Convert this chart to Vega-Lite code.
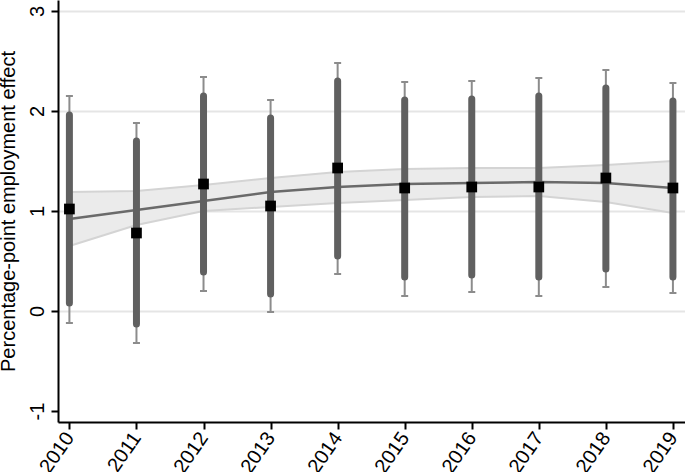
{
  "$schema": "https://vega.github.io/schema/vega-lite/v6.json",
  "width": 627,
  "height": 422,
  "autosize": {"type": "none"},
  "padding": {"left": 58, "top": 0, "right": 0, "bottom": 50},
  "background": "white",
  "config": {
    "view": {"stroke": null},
    "font": "Liberation Sans"
  },
  "data": {
    "values": [
      {"year": 2010, "est": 1.02, "hi90": 1.96, "lo90": 0.08, "hi95": 2.15, "lo95": -0.12, "fit": 0.92, "fithi": 1.19, "fitlo": 0.65},
      {"year": 2011, "est": 0.78, "hi90": 1.70, "lo90": -0.13, "hi95": 1.88, "lo95": -0.32, "fit": 1.01, "fithi": 1.20, "fitlo": 0.86},
      {"year": 2012, "est": 1.27, "hi90": 2.15, "lo90": 0.39, "hi95": 2.34, "lo95": 0.20, "fit": 1.10, "fithi": 1.26, "fitlo": 1.00},
      {"year": 2013, "est": 1.05, "hi90": 1.93, "lo90": 0.17, "hi95": 2.11, "lo95": -0.01, "fit": 1.19, "fithi": 1.33, "fitlo": 1.04},
      {"year": 2014, "est": 1.43, "hi90": 2.30, "lo90": 0.55, "hi95": 2.48, "lo95": 0.37, "fit": 1.24, "fithi": 1.39, "fitlo": 1.08},
      {"year": 2015, "est": 1.23, "hi90": 2.11, "lo90": 0.34, "hi95": 2.29, "lo95": 0.15, "fit": 1.27, "fithi": 1.42, "fitlo": 1.11},
      {"year": 2016, "est": 1.24, "hi90": 2.12, "lo90": 0.36, "hi95": 2.30, "lo95": 0.19, "fit": 1.28, "fithi": 1.43, "fitlo": 1.14},
      {"year": 2017, "est": 1.24, "hi90": 2.15, "lo90": 0.34, "hi95": 2.33, "lo95": 0.15, "fit": 1.29, "fithi": 1.43, "fitlo": 1.15},
      {"year": 2018, "est": 1.33, "hi90": 2.23, "lo90": 0.42, "hi95": 2.41, "lo95": 0.24, "fit": 1.28, "fithi": 1.46, "fitlo": 1.09},
      {"year": 2019, "est": 1.23, "hi90": 2.10, "lo90": 0.34, "hi95": 2.28, "lo95": 0.18, "fit": 1.23, "fithi": 1.50, "fitlo": 0.98}
    ]
  },
  "encoding": {
    "x": {
      "field": "year",
      "type": "quantitative",
      "scale": {"domain": [2009.83, 2019.18], "nice": false, "zero": false},
      "axis": {
        "values": [2010, 2011, 2012, 2013, 2014, 2015, 2016, 2017, 2018, 2019],
        "format": "d",
        "title": null,
        "grid": false,
        "domainColor": "black",
        "domainWidth": 2,
        "tickColor": "black",
        "tickWidth": 2,
        "tickSize": 7,
        "labelAngle": -55,
        "labelAlign": "right",
        "labelBaseline": "middle",
        "labelFontSize": 20,
        "labelColor": "black",
        "labelPadding": 5,
        "labelFlush": false,
        "labelOverlap": false
      }
    }
  },
  "layer": [
    {
      "mark": {"type": "area", "color": "#ebebeb", "opacity": 1},
      "encoding": {
        "y": {
          "field": "fitlo",
          "type": "quantitative",
          "scale": {"domain": [-1.11, 3.11], "nice": false, "zero": false},
          "axis": {
            "values": [-1, 0, 1, 2, 3],
            "labelExpr": "datum.value < 0 ? '-' + abs(datum.value) : '' + datum.value",
            "title": "Percentage-point employment effect",
            "titleFontSize": 20,
            "titleFontWeight": "normal",
            "titleColor": "black",
            "titleAngle": -90,
            "titleAlign": "center",
            "titleBaseline": "alphabetic",
            "titleX": -44,
            "titleY": 211,
            "grid": true,
            "gridColor": {"condition": {"test": "datum.value === -1", "value": "transparent"}, "value": "#e5e5e5"},
            "gridWidth": 2,
            "domainColor": "black",
            "domainWidth": 2,
            "tickColor": "black",
            "tickWidth": 2,
            "tickSize": 7,
            "labelAngle": -90,
            "labelAlign": "center",
            "labelBaseline": "alphabetic",
            "labelFontSize": 20,
            "labelColor": "black",
            "labelPadding": 8,
            "labelFlush": false
          }
        },
        "y2": {"field": "fithi"}
      }
    },
    {
      "mark": {"type": "line", "color": "#d4d4d4", "strokeWidth": 2},
      "encoding": {"y": {"field": "fithi", "type": "quantitative"}}
    },
    {
      "mark": {"type": "line", "color": "#d4d4d4", "strokeWidth": 2},
      "encoding": {"y": {"field": "fitlo", "type": "quantitative"}}
    },
    {
      "mark": {"type": "line", "color": "#6a6a6a", "strokeWidth": 2.5},
      "encoding": {"y": {"field": "fit", "type": "quantitative"}}
    },
    {
      "mark": {"type": "rule", "color": "#8c8c8c", "strokeWidth": 2},
      "encoding": {
        "y": {"field": "lo95", "type": "quantitative"},
        "y2": {"field": "hi95"}
      }
    },
    {
      "mark": {"type": "tick", "color": "#8c8c8c", "orient": "horizontal", "size": 7, "thickness": 2, "opacity": 1},
      "encoding": {"y": {"field": "hi95", "type": "quantitative"}}
    },
    {
      "mark": {"type": "tick", "color": "#8c8c8c", "orient": "horizontal", "size": 7, "thickness": 2, "opacity": 1},
      "encoding": {"y": {"field": "lo95", "type": "quantitative"}}
    },
    {
      "mark": {"type": "rule", "color": "#606060", "strokeWidth": 7, "strokeCap": "round"},
      "encoding": {
        "y": {"field": "lo90", "type": "quantitative"},
        "y2": {"field": "hi90"}
      }
    },
    {
      "mark": {"type": "point", "shape": "square", "filled": true, "color": "black", "size": 115, "opacity": 1},
      "encoding": {"y": {"field": "est", "type": "quantitative"}}
    }
  ]
}
